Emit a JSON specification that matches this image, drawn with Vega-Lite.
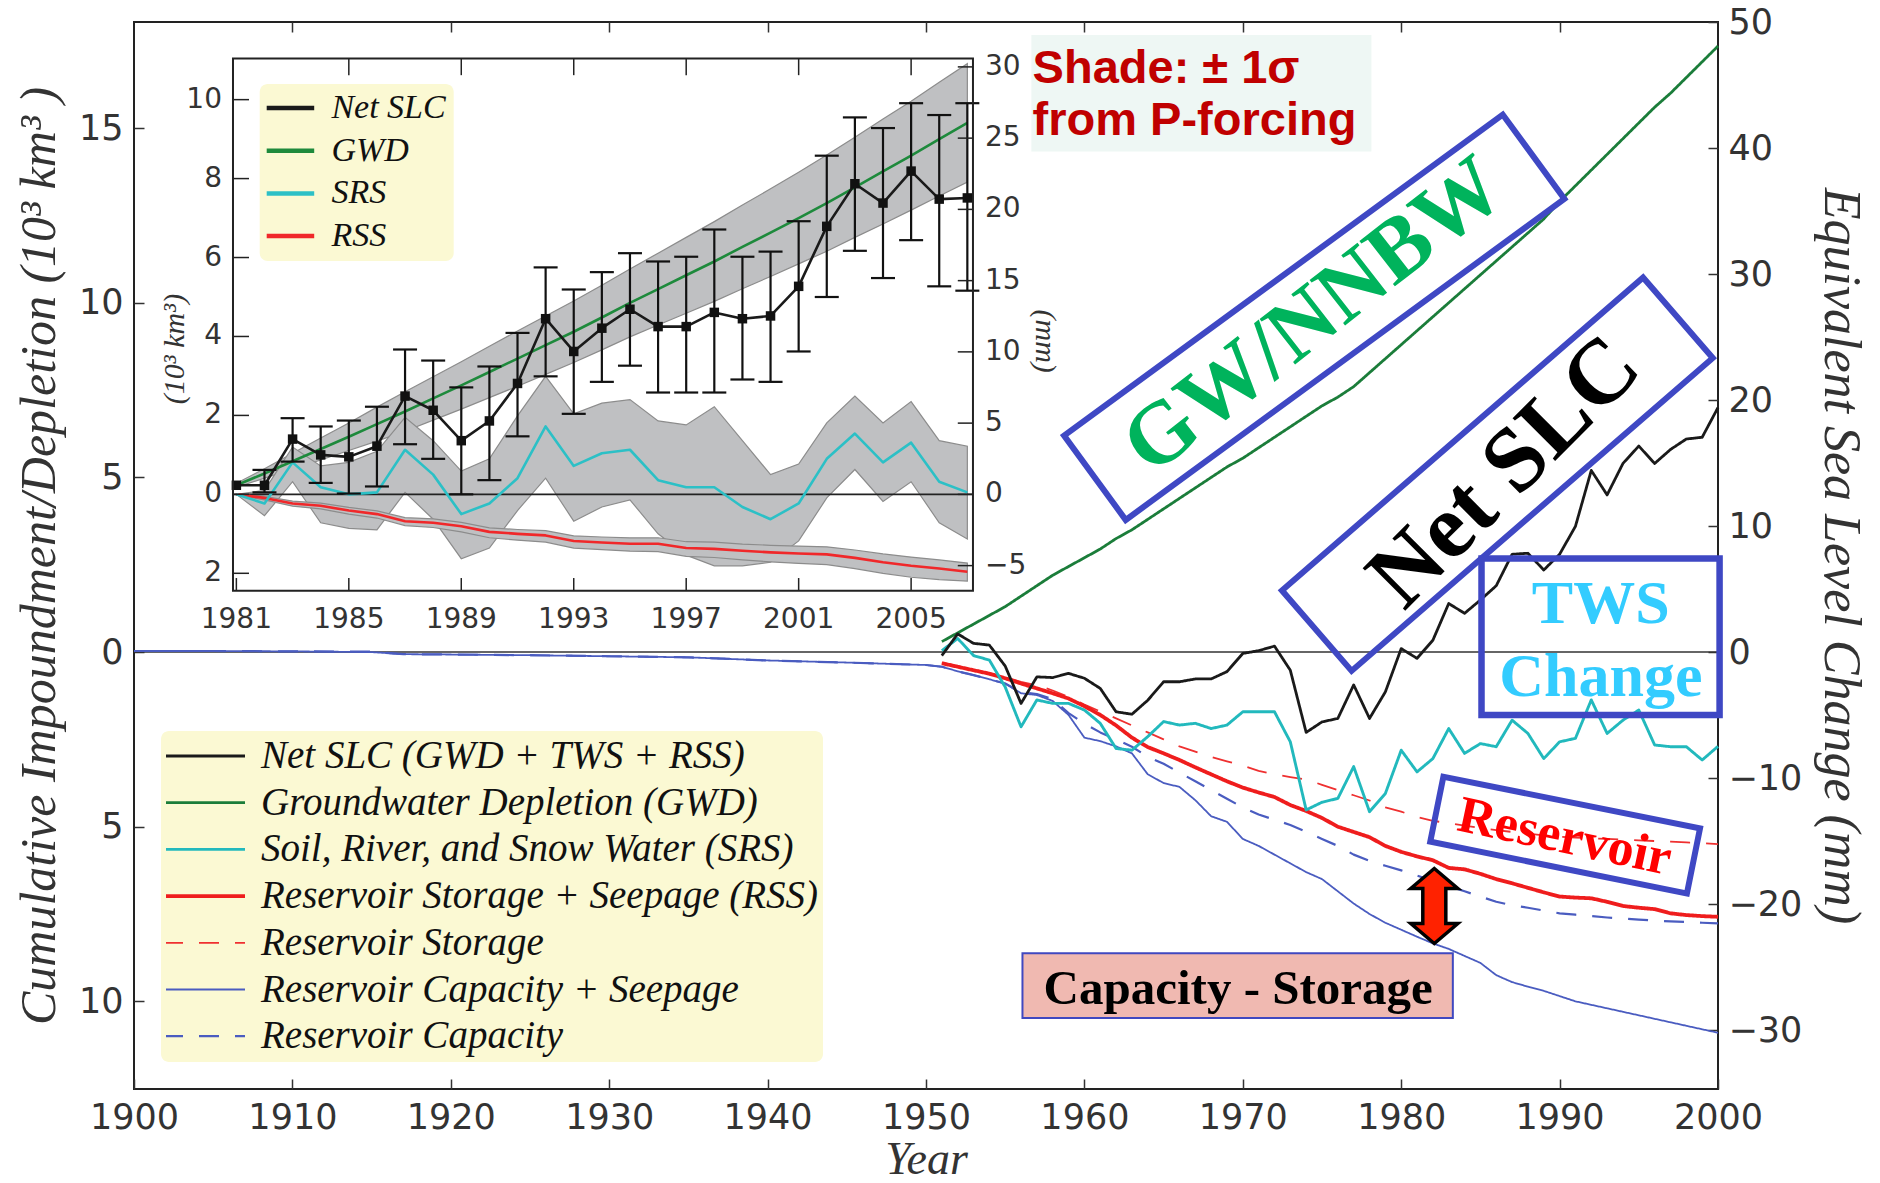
{
"$schema": "https://vega.github.io/schema/vega-lite/v6.json",
"width": 1584, "height": 1067,
"autosize": {"type": "none"},
"padding": {"left": 134, "top": 22, "right": 162, "bottom": 94},
"background": "white",
"config": {"view": {"stroke": "#222", "strokeWidth": 2}},
"datasets": {
"main": [
{"year":1900,"RCS":0.03,"RC":0.03},{"year":1905,"RCS":0.03,"RC":0.03},{"year":1910,"RCS":0.02,"RC":0.02},{"year":1915,"RCS":0.0,"RC":0.01},{"year":1917,"RCS":-0.06,"RC":-0.06},{"year":1920,"RCS":-0.07,"RC":-0.07},{"year":1925,"RCS":-0.09,"RC":-0.09},{"year":1930,"RCS":-0.12,"RC":-0.12},{"year":1935,"RCS":-0.15,"RC":-0.15},{"year":1940,"RCS":-0.24,"RC":-0.24},{"year":1945,"RCS":-0.3,"RC":-0.3},{"year":1950,"RCS":-0.37,"RC":-0.37},
{"year":1951,"NET":-0.1,"GWD":0.3,"SRS":0.04,"RSS":-0.32,"RS":-0.3,"RCS":-0.42,"RC":-0.42},
{"year":1952,"NET":0.52,"GWD":0.55,"SRS":0.39,"RSS":-0.42,"RS":-0.4,"RCS":-0.55,"RC":-0.55},
{"year":1953,"NET":0.25,"GWD":0.8,"SRS":-0.1,"RSS":-0.52,"RS":-0.5,"RCS":-0.66,"RC":-0.66},
{"year":1954,"NET":0.2,"GWD":1.05,"SRS":-0.23,"RSS":-0.62,"RS":-0.6,"RCS":-0.78,"RC":-0.78},
{"year":1955,"NET":-0.4,"GWD":1.3,"SRS":-1.0,"RSS":-0.75,"RS":-0.72,"RCS":-0.9,"RC":-0.9},
{"year":1956,"NET":-1.47,"GWD":1.6,"SRS":-2.14,"RSS":-0.9,"RS":-0.85,"RCS":-1.18,"RC":-1.15},
{"year":1957,"NET":-0.71,"GWD":1.9,"SRS":-1.37,"RSS":-1.04,"RS":-0.95,"RCS":-1.23,"RC":-1.2},
{"year":1958,"NET":-0.73,"GWD":2.2,"SRS":-1.47,"RSS":-1.18,"RS":-1.1,"RCS":-1.4,"RC":-1.35},
{"year":1959,"NET":-0.61,"GWD":2.45,"SRS":-1.47,"RSS":-1.33,"RS":-1.28,"RCS":-1.8,"RC":-1.75},
{"year":1960,"NET":-0.75,"GWD":2.7,"SRS":-1.66,"RSS":-1.55,"RS":-1.5,"RCS":-2.45,"RC":-2.05},
{"year":1961,"NET":-1.04,"GWD":2.95,"SRS":-2.04,"RSS":-1.8,"RS":-1.7,"RCS":-2.55,"RC":-2.3},
{"year":1962,"NET":-1.71,"GWD":3.25,"SRS":-2.76,"RSS":-2.1,"RS":-1.9,"RCS":-2.7,"RC":-2.5},
{"year":1963,"NET":-1.78,"GWD":3.5,"SRS":-2.81,"RSS":-2.45,"RS":-2.1,"RCS":-2.9,"RC":-2.71},
{"year":1964,"NET":-1.38,"GWD":3.8,"SRS":-2.42,"RSS":-2.72,"RS":-2.3,"RCS":-3.5,"RC":-3.0},
{"year":1965,"NET":-0.85,"GWD":4.1,"SRS":-1.99,"RSS":-2.9,"RS":-2.5,"RCS":-3.75,"RC":-3.2},
{"year":1966,"NET":-0.85,"GWD":4.4,"SRS":-2.09,"RSS":-3.09,"RS":-2.7,"RCS":-3.86,"RC":-3.45},
{"year":1967,"NET":-0.77,"GWD":4.7,"SRS":-2.04,"RSS":-3.3,"RS":-2.85,"RCS":-4.24,"RC":-3.7},
{"year":1968,"NET":-0.77,"GWD":5.0,"SRS":-2.19,"RSS":-3.5,"RS":-3.0,"RCS":-4.7,"RC":-3.95},
{"year":1969,"NET":-0.56,"GWD":5.3,"SRS":-2.09,"RSS":-3.7,"RS":-3.13,"RCS":-4.86,"RC":-4.2},
{"year":1970,"NET":-0.04,"GWD":5.55,"SRS":-1.71,"RSS":-3.88,"RS":-3.25,"RCS":-5.35,"RC":-4.45},
{"year":1971,"NET":0.04,"GWD":5.85,"SRS":-1.71,"RSS":-4.02,"RS":-3.4,"RCS":-5.55,"RC":-4.65},
{"year":1972,"NET":0.17,"GWD":6.15,"SRS":-1.71,"RSS":-4.15,"RS":-3.5,"RCS":-5.8,"RC":-4.8},
{"year":1973,"NET":-0.52,"GWD":6.45,"SRS":-2.57,"RSS":-4.38,"RS":-3.58,"RCS":-6.05,"RC":-4.95},
{"year":1974,"NET":-2.3,"GWD":6.75,"SRS":-4.52,"RSS":-4.55,"RS":-3.65,"RCS":-6.3,"RC":-5.15},
{"year":1975,"NET":-2.0,"GWD":7.05,"SRS":-4.3,"RSS":-4.75,"RS":-3.8,"RCS":-6.5,"RC":-5.35},
{"year":1976,"NET":-1.9,"GWD":7.3,"SRS":-4.19,"RSS":-5.0,"RS":-3.95,"RCS":-6.85,"RC":-5.55},
{"year":1977,"NET":-0.94,"GWD":7.6,"SRS":-3.28,"RSS":-5.15,"RS":-4.1,"RCS":-7.2,"RC":-5.8},
{"year":1978,"NET":-1.9,"GWD":8.0,"SRS":-4.57,"RSS":-5.3,"RS":-4.25,"RCS":-7.5,"RC":-5.98},
{"year":1979,"NET":-1.14,"GWD":8.4,"SRS":-4.05,"RSS":-5.55,"RS":-4.45,"RCS":-7.75,"RC":-6.12},
{"year":1980,"NET":0.1,"GWD":8.8,"SRS":-2.81,"RSS":-5.72,"RS":-4.57,"RCS":-7.95,"RC":-6.25},
{"year":1981,"NET":-0.18,"GWD":9.2,"SRS":-3.43,"RSS":-5.85,"RS":-4.72,"RCS":-8.15,"RC":-6.4},
{"year":1982,"NET":0.34,"GWD":9.6,"SRS":-3.05,"RSS":-5.96,"RS":-4.83,"RCS":-8.34,"RC":-6.55},
{"year":1983,"NET":1.39,"GWD":10.0,"SRS":-2.19,"RSS":-6.18,"RS":-4.9,"RCS":-8.5,"RC":-6.7},
{"year":1984,"NET":1.11,"GWD":10.4,"SRS":-2.9,"RSS":-6.22,"RS":-4.97,"RCS":-8.7,"RC":-6.85},
{"year":1985,"NET":1.49,"GWD":10.8,"SRS":-2.62,"RSS":-6.35,"RS":-5.04,"RCS":-8.9,"RC":-7.0},
{"year":1986,"NET":1.9,"GWD":11.2,"SRS":-2.71,"RSS":-6.5,"RS":-5.1,"RCS":-9.25,"RC":-7.15},
{"year":1987,"NET":2.8,"GWD":11.6,"SRS":-1.95,"RSS":-6.62,"RS":-5.15,"RCS":-9.45,"RC":-7.25},
{"year":1988,"NET":2.83,"GWD":12.0,"SRS":-2.33,"RSS":-6.75,"RS":-5.2,"RCS":-9.58,"RC":-7.32},
{"year":1989,"NET":2.35,"GWD":12.4,"SRS":-3.05,"RSS":-6.88,"RS":-5.25,"RCS":-9.7,"RC":-7.4},
{"year":1990,"NET":2.8,"GWD":12.9,"SRS":-2.57,"RSS":-7.0,"RS":-5.29,"RCS":-9.85,"RC":-7.48},
{"year":1991,"NET":3.6,"GWD":13.35,"SRS":-2.47,"RSS":-7.03,"RS":-5.31,"RCS":-10.0,"RC":-7.52},
{"year":1992,"NET":5.2,"GWD":13.8,"SRS":-1.37,"RSS":-7.05,"RS":-5.33,"RCS":-10.1,"RC":-7.56},
{"year":1993,"NET":4.5,"GWD":14.25,"SRS":-2.33,"RSS":-7.15,"RS":-5.35,"RCS":-10.2,"RC":-7.6},
{"year":1994,"NET":5.4,"GWD":14.7,"SRS":-1.95,"RSS":-7.27,"RS":-5.37,"RCS":-10.3,"RC":-7.63},
{"year":1995,"NET":5.9,"GWD":15.15,"SRS":-1.66,"RSS":-7.32,"RS":-5.39,"RCS":-10.4,"RC":-7.66},
{"year":1996,"NET":5.4,"GWD":15.6,"SRS":-2.66,"RSS":-7.36,"RS":-5.41,"RCS":-10.5,"RC":-7.69},
{"year":1997,"NET":5.8,"GWD":16.0,"SRS":-2.71,"RSS":-7.48,"RS":-5.43,"RCS":-10.6,"RC":-7.71},
{"year":1998,"NET":6.1,"GWD":16.45,"SRS":-2.71,"RSS":-7.53,"RS":-5.45,"RCS":-10.7,"RC":-7.73},
{"year":1999,"NET":6.15,"GWD":16.9,"SRS":-3.09,"RSS":-7.56,"RS":-5.47,"RCS":-10.8,"RC":-7.75},
{"year":2000,"NET":7.0,"GWD":17.35,"SRS":-2.7,"RSS":-7.58,"RS":-5.5,"RCS":-10.9,"RC":-7.77}
],
"inset": [
{"year":1981,"NET":0.23,"GWD":0.23,"glo":0.18,"ghi":0.28,"SRS":0,"slo":0,"shi":0,"RSS":0,"rlo":-0.02,"rhi":0.02},
{"year":1982,"NET":0.23,"lo":0.05,"hi":0.62,"GWD":0.53,"glo":0.41,"ghi":0.65,"SRS":-0.23,"slo":-0.54,"shi":0.1,"RSS":-0.09,"rlo":-0.14,"rhi":-0.05},
{"year":1983,"NET":1.4,"lo":0.83,"hi":1.93,"GWD":0.84,"glo":0.64,"ghi":1.04,"SRS":0.81,"slo":0.32,"shi":1.2,"RSS":-0.23,"rlo":-0.3,"rhi":-0.17},
{"year":1984,"NET":1.0,"lo":0.29,"hi":1.72,"GWD":1.15,"glo":0.87,"ghi":1.43,"SRS":0.18,"slo":-0.72,"shi":0.72,"RSS":-0.29,"rlo":-0.37,"rhi":-0.22},
{"year":1985,"NET":0.95,"lo":0.02,"hi":1.87,"GWD":1.46,"glo":1.11,"ghi":1.81,"SRS":0,"slo":-0.86,"shi":0.81,"RSS":-0.41,"rlo":-0.5,"rhi":-0.33},
{"year":1986,"NET":1.22,"lo":0.2,"hi":2.22,"GWD":1.78,"glo":1.35,"ghi":2.21,"SRS":0.05,"slo":-0.9,"shi":1.09,"RSS":-0.5,"rlo":-0.6,"rhi":-0.42},
{"year":1987,"NET":2.49,"lo":1.27,"hi":3.67,"GWD":2.1,"glo":1.6,"ghi":2.6,"SRS":1.13,"slo":0.05,"shi":1.95,"RSS":-0.68,"rlo":-0.79,"rhi":-0.59},
{"year":1988,"NET":2.13,"lo":0.9,"hi":3.39,"GWD":2.43,"glo":1.88,"ghi":2.98,"SRS":0.5,"slo":-0.63,"shi":1.36,"RSS":-0.72,"rlo":-0.84,"rhi":-0.62},
{"year":1989,"NET":1.36,"lo":0.0,"hi":2.71,"GWD":2.76,"glo":2.16,"ghi":3.36,"SRS":-0.5,"slo":-1.63,"shi":0.59,"RSS":-0.81,"rlo":-0.95,"rhi":-0.71},
{"year":1990,"NET":1.86,"lo":0.36,"hi":3.24,"GWD":3.1,"glo":2.45,"ghi":3.75,"SRS":-0.23,"slo":-1.36,"shi":0.9,"RSS":-0.95,"rlo":-1.1,"rhi":-0.85},
{"year":1991,"NET":2.81,"lo":1.47,"hi":4.09,"GWD":3.44,"glo":2.74,"ghi":4.14,"SRS":0.41,"slo":-0.41,"shi":1.99,"RSS":-1.0,"rlo":-1.16,"rhi":-0.89},
{"year":1992,"NET":4.45,"lo":2.99,"hi":5.75,"GWD":3.78,"glo":3.04,"ghi":4.52,"SRS":1.72,"slo":0.41,"shi":2.99,"RSS":-1.04,"rlo":-1.21,"rhi":-0.92},
{"year":1993,"NET":3.62,"lo":2.04,"hi":5.19,"GWD":4.12,"glo":3.34,"ghi":4.9,"SRS":0.72,"slo":-0.68,"shi":2.04,"RSS":-1.18,"rlo":-1.36,"rhi":-1.05},
{"year":1994,"NET":4.21,"lo":2.85,"hi":5.63,"GWD":4.48,"glo":3.66,"ghi":5.3,"SRS":1.04,"slo":-0.32,"shi":2.31,"RSS":-1.22,"rlo":-1.4,"rhi":-1.08},
{"year":1995,"NET":4.69,"lo":3.26,"hi":6.11,"GWD":4.85,"glo":3.99,"ghi":5.71,"SRS":1.13,"slo":-0.14,"shi":2.4,"RSS":-1.25,"rlo":-1.44,"rhi":-1.1},
{"year":1996,"NET":4.25,"lo":2.58,"hi":5.9,"GWD":5.2,"glo":4.29,"ghi":6.11,"SRS":0.36,"slo":-1.0,"shi":1.86,"RSS":-1.25,"rlo":-1.45,"rhi":-1.1},
{"year":1997,"NET":4.25,"lo":2.58,"hi":6.02,"GWD":5.55,"glo":4.59,"ghi":6.51,"SRS":0.18,"slo":-1.54,"shi":1.76,"RSS":-1.36,"rlo":-1.57,"rhi":-1.2},
{"year":1998,"NET":4.61,"lo":2.58,"hi":6.71,"GWD":5.9,"glo":4.89,"ghi":6.91,"SRS":0.18,"slo":-1.81,"shi":2.22,"RSS":-1.38,"rlo":-1.6,"rhi":-1.21},
{"year":1999,"NET":4.45,"lo":2.91,"hi":6.02,"GWD":6.27,"glo":5.21,"ghi":7.33,"SRS":-0.32,"slo":-1.81,"shi":1.36,"RSS":-1.43,"rlo":-1.66,"rhi":-1.26},
{"year":2000,"NET":4.52,"lo":2.85,"hi":6.15,"GWD":6.63,"glo":5.52,"ghi":7.74,"SRS":-0.63,"slo":-1.72,"shi":0.5,"RSS":-1.47,"rlo":-1.71,"rhi":-1.29},
{"year":2001,"NET":5.27,"lo":3.62,"hi":6.92,"GWD":7.0,"glo":5.84,"ghi":8.16,"SRS":-0.23,"slo":-1.18,"shi":0.77,"RSS":-1.5,"rlo":-1.75,"rhi":-1.31},
{"year":2002,"NET":6.79,"lo":5.0,"hi":8.58,"GWD":7.38,"glo":6.16,"ghi":8.6,"SRS":0.9,"slo":-0.09,"shi":1.81,"RSS":-1.52,"rlo":-1.78,"rhi":-1.33},
{"year":2003,"NET":7.87,"lo":6.17,"hi":9.55,"GWD":7.78,"glo":6.51,"ghi":9.05,"SRS":1.54,"slo":0.63,"shi":2.49,"RSS":-1.61,"rlo":-1.88,"rhi":-1.41},
{"year":2004,"NET":7.38,"lo":5.48,"hi":9.28,"GWD":8.18,"glo":6.85,"ghi":9.51,"SRS":0.81,"slo":-0.18,"shi":1.81,"RSS":-1.72,"rlo":-2.0,"rhi":-1.51},
{"year":2005,"NET":8.19,"lo":6.44,"hi":9.91,"GWD":8.58,"glo":7.2,"ghi":9.96,"SRS":1.31,"slo":0.32,"shi":2.35,"RSS":-1.81,"rlo":-2.1,"rhi":-1.59},
{"year":2006,"NET":7.48,"lo":5.27,"hi":9.61,"GWD":9.0,"glo":7.56,"ghi":10.44,"SRS":0.32,"slo":-0.72,"shi":1.36,"RSS":-1.88,"rlo":-2.16,"rhi":-1.66},
{"year":2007,"NET":7.51,"lo":5.16,"hi":9.91,"GWD":9.41,"glo":7.91,"ghi":10.91,"SRS":0.05,"slo":-1.13,"shi":1.22,"RSS":-1.96,"rlo":-2.2,"rhi":-1.74}
]
},
"layer": [
{
"layer": [
{"data": {"values": [{}]}, "mark": {"type": "rule", "color": "#333", "strokeWidth": 1.6}, "encoding": {"y": {"datum": 0, "type": "quantitative", "axis": null}}},
{"data": {"name": "main"},
 "transform": [{"fold": ["RCS","RC","RS","RSS","SRS","GWD","NET"], "as": ["series","value"]}, {"filter": "isValid(datum.value)"}],
 "mark": {"type": "line", "strokeJoin": "round"},
 "encoding": {
  "x": {"field": "year", "type": "quantitative", "scale": {"domain": [1900, 2000], "nice": false, "zero": false}, "axis": null},
  "y": {"field": "value", "type": "quantitative", "scale": {"domain": [-12.51, 18.04], "nice": false, "zero": false}, "axis": null},
  "color": {"field": "series", "type": "nominal",
            "scale": {"domain": ["NET","GWD","SRS","RSS","RS","RCS","RC"], "range": ["#1a1a1a","#1b7d3a","#22b9bd","#ef1d1d","#ef3030","#4a5cc0","#4a5cc0"]},
            "legend": {"title": null, "orient": "bottom-left", "offset": 27, "columns": 1, "symbolType": "stroke", "symbolSize": 6724, "clipHeight": 40, "rowPadding": 6.7, "padding": 5, "symbolOffset": -5, "labelOffset": 14, "fillColor": "#fbf9d3", "cornerRadius": 8, "labelFont": "Liberation Serif", "labelFontStyle": "italic", "labelFontSize": 39, "labelColor": "#111", "labelLimit": 900,
                       "labelExpr": "datum.label == 'NET' ? 'Net SLC (GWD + TWS + RSS)' : datum.label == 'GWD' ? 'Groundwater Depletion (GWD)' : datum.label == 'SRS' ? 'Soil, River, and Snow Water (SRS)' : datum.label == 'RSS' ? 'Reservoir Storage + Seepage (RSS)' : datum.label == 'RS' ? 'Reservoir Storage' : datum.label == 'RCS' ? 'Reservoir Capacity + Seepage' : 'Reservoir Capacity'"}},
  "strokeDash": {"field": "series", "type": "nominal", "scale": {"domain": ["NET","GWD","SRS","RSS","RS","RCS","RC"], "range": [[1,0],[1,0],[1,0],[1,0],[20,16],[1,0],[20,16]]}, "legend": {"title": null}},
  "strokeWidth": {"field": "series", "type": "ordinal", "scale": {"type": "ordinal", "domain": ["NET","GWD","SRS","RSS","RS","RCS","RC"], "range": [2.8,2.8,2.9,3.8,1.8,1.8,2.2]}, "legend": {"title": null}}
 }},
{"data": {"values": [{}]}, "mark": {"type": "rect", "fill": "#eef7f4"}, "encoding": {"x": {"datum": 1956.65, "type": "quantitative", "axis": null}, "x2": {"datum": 1978.12}, "y": {"datum": 17.67, "type": "quantitative", "axis": null}, "y2": {"datum": 14.33}}},
{"data": {"values": [{}]}, "mark": {"type": "text", "text": ["Shade: ± 1σ", "from P-forcing"], "lineHeight": 52, "align": "left", "baseline": "alphabetic", "font": "Liberation Sans", "fontWeight": "bold", "fontSize": 47, "color": "#c00000"}, "encoding": {"x": {"datum": 1956.73, "type": "quantitative", "axis": null}, "y": {"datum": 16.29, "type": "quantitative", "axis": null}}},
{"data": {"values": [{}]}, "mark": {"type": "point", "shape": "M-1,-0.192L1,-0.192L1,0.192L-1,0.192Z", "size": 295500, "angle": -36.2, "filled": false, "stroke": "#3f48c4", "strokeWidth": 6, "opacity": 1}, "encoding": {"x": {"datum": 1974.51, "type": "quantitative", "axis": null}, "y": {"datum": 9.585, "type": "quantitative", "axis": null}}},
{"data": {"values": [{}]}, "mark": {"type": "text", "text": "GW/NNBW", "angle": -38, "align": "center", "baseline": "middle", "font": "Liberation Serif", "fontWeight": "bold", "fontSize": 88, "color": "#00b35c"}, "encoding": {"x": {"datum": 1974.51, "type": "quantitative", "axis": null}, "y": {"datum": 9.607, "type": "quantitative", "axis": null}}},
{"data": {"values": [{}]}, "mark": {"type": "point", "shape": "M-1,-0.2227L1,-0.2227L1,0.2227L-1,0.2227Z", "size": 228290, "angle": -40.9, "filled": false, "stroke": "#3f48c4", "strokeWidth": 6, "opacity": 1}, "encoding": {"x": {"datum": 1986.07, "type": "quantitative", "axis": null}, "y": {"datum": 5.092, "type": "quantitative", "axis": null}}},
{"data": {"values": [{}]}, "mark": {"type": "text", "text": "Net SLC", "angle": -45, "align": "center", "baseline": "middle", "font": "Liberation Serif", "fontWeight": "bold", "fontSize": 92, "color": "#000000"}, "encoding": {"x": {"datum": 1986.52, "type": "quantitative", "axis": null}, "y": {"datum": 5.157, "type": "quantitative", "axis": null}}},
{"data": {"values": [{}]}, "mark": {"type": "rect", "fillOpacity": 0, "stroke": "#3f48c4", "strokeWidth": 6.5}, "encoding": {"x": {"datum": 1985.07, "type": "quantitative", "axis": null}, "x2": {"datum": 2000.1}, "y": {"datum": 2.68, "type": "quantitative", "axis": null}, "y2": {"datum": -1.8}}},
{"data": {"values": [{}]}, "mark": {"type": "text", "text": ["TWS", "Change"], "lineHeight": 73, "align": "center", "baseline": "alphabetic", "font": "Liberation Serif", "fontWeight": "bold", "fontSize": 62, "color": "#33ccff"}, "encoding": {"x": {"datum": 1992.6, "type": "quantitative", "axis": null}, "y": {"datum": 0.82, "type": "quantitative", "axis": null}}},
{"data": {"values": [{}]}, "mark": {"type": "point", "shape": "M-1,-0.2532L1,-0.2532L1,0.2532L-1,0.2532Z", "size": 68540, "angle": 11.4, "filled": false, "stroke": "#3f48c4", "strokeWidth": 6, "opacity": 1}, "encoding": {"x": {"datum": 1990.35, "type": "quantitative", "axis": null}, "y": {"datum": -5.24, "type": "quantitative", "axis": null}}},
{"data": {"values": [{}]}, "mark": {"type": "text", "text": "Reservoir", "angle": 12, "align": "center", "baseline": "middle", "font": "Liberation Serif", "fontWeight": "bold", "fontSize": 52, "color": "#ff0000"}, "encoding": {"x": {"datum": 1990.33, "type": "quantitative", "axis": null}, "y": {"datum": -5.29, "type": "quantitative", "axis": null}}},
{"data": {"values": [{}]}, "mark": {"type": "rect", "fill": "#f0b9b1", "stroke": "#4048c0", "strokeWidth": 2}, "encoding": {"x": {"datum": 1956.09, "type": "quantitative", "axis": null}, "x2": {"datum": 1983.26}, "y": {"datum": -8.625, "type": "quantitative", "axis": null}, "y2": {"datum": -10.48}}},
{"data": {"values": [{}]}, "mark": {"type": "text", "text": "Capacity - Storage", "align": "center", "baseline": "alphabetic", "font": "Liberation Serif", "fontWeight": "bold", "fontSize": 49, "color": "#000000"}, "encoding": {"x": {"datum": 1969.71, "type": "quantitative", "axis": null}, "y": {"datum": -10.08, "type": "quantitative", "axis": null}}},
{"data": {"values": [{}]}, "mark": {"type": "point", "shape": "M0,-1L0.627,-0.467L0.307,-0.467L0.307,0.467L0.627,0.467L0,1L-0.627,0.467L-0.307,0.467L-0.307,-0.467L-0.627,-0.467Z", "size": 5625, "filled": true, "fill": "#ff2200", "stroke": "#000000", "strokeWidth": 3.5, "opacity": 1}, "encoding": {"x": {"datum": 1982.09, "type": "quantitative", "axis": null}, "y": {"datum": -7.27, "type": "quantitative", "axis": null}}}
]
},
{"data": {"values": [{}]}, "mark": {"type": "rule", "strokeOpacity": 0},
 "encoding": {"x": {"datum": 1900, "type": "quantitative", "scale": {"domain": [1900, 2000], "nice": false, "zero": false},
   "axis": {"orient": "bottom", "values": [1900,1910,1920,1930,1940,1950,1960,1970,1980,1990,2000], "format": "d", "title": "Year", "titleFont": "Liberation Serif", "titleFontStyle": "italic", "titleFontWeight": "normal", "titleFontSize": 46, "titleColor": "#333", "titlePadding": 2, "labelFont": "DejaVu Sans", "labelFontSize": 35, "labelColor": "#333", "labelPadding": 21, "tickSize": -10, "tickColor": "#333", "tickWidth": 1.5, "domain": false, "grid": false, "labelFlush": false, "labelOverlap": false}}}},
{"data": {"values": [{}]}, "mark": {"type": "rule", "strokeOpacity": 0},
 "encoding": {"y": {"datum": 0, "type": "quantitative", "scale": {"domain": [-12.51, 18.04], "nice": false, "zero": false},
   "axis": {"orient": "left", "values": [-10,-5,0,5,10,15], "labelExpr": "'' + abs(datum.value)", "title": "Cumulative Impoundment/Depletion (10³ km³ )", "titleFont": "Liberation Serif", "titleFontStyle": "italic", "titleFontWeight": "normal", "titleFontSize": 50, "titleColor": "#333", "titlePadding": 14, "labelFont": "DejaVu Sans", "labelFontSize": 35, "labelColor": "#333", "labelPadding": 21, "tickSize": -10, "tickColor": "#333", "tickWidth": 1.5, "domain": false, "grid": false, "labelFlush": false}}}},
{"data": {"values": [{}]}, "mark": {"type": "rule", "strokeOpacity": 0},
 "encoding": {"y": {"datum": 0, "type": "quantitative", "scale": {"domain": [-34.67, 50], "nice": false, "zero": false},
   "axis": {"orient": "right", "values": [-30,-20,-10,0,10,20,30,40,50], "title": "Equivalent Sea Level Change (mm)", "titleFont": "Liberation Serif", "titleFontStyle": "italic", "titleFontWeight": "normal", "titleFontSize": 52, "titleColor": "#333", "titlePadding": 12, "labelFont": "DejaVu Sans", "labelFontSize": 35, "labelColor": "#333", "labelPadding": 20, "tickSize": -10, "tickColor": "#333", "tickWidth": 1.5, "domain": false, "grid": false, "labelFlush": false}}}},
{"data": {"values": [{}]}, "mark": {"type": "rule", "strokeOpacity": 0},
 "encoding": {"x": {"datum": 1900, "type": "quantitative", "scale": {"domain": [1900, 2000], "nice": false, "zero": false},
   "axis": {"orient": "top", "values": [1910,1920,1930,1940,1950,1960,1970,1980,1990], "labels": false, "title": null, "tickSize": -10, "tickColor": "#333", "tickWidth": 1.5, "domain": false, "grid": false}}}},
{
"layer": [
{"layer": [
 {"data": {"values": [{}]}, "mark": {"type": "rect", "fill": "white"}, "encoding": {"x": {"datum": 1980.88, "type": "quantitative", "scale": {"domain": [1977.359, 2033.7], "nice": false, "zero": false}, "axis": null}, "x2": {"datum": 2007.2}, "y": {"datum": -2.44, "type": "quantitative", "scale": {"domain": [-15.065, 11.967], "nice": false, "zero": false}, "axis": null}, "y2": {"datum": 11.04}}},
 {"data": {"name": "inset"}, "mark": {"type": "area", "fill": "#bfc0c2", "stroke": "#8c8c8c", "strokeWidth": 1.2, "fillOpacity": 1}, "encoding": {"x": {"field": "year", "type": "quantitative", "scale": {"domain": [1977.359, 2033.7], "nice": false, "zero": false}, "axis": null}, "y": {"field": "glo", "type": "quantitative", "scale": {"domain": [-15.065, 11.967], "nice": false, "zero": false}, "axis": null}, "y2": {"field": "ghi"}}},
 {"data": {"name": "inset"}, "mark": {"type": "area", "fill": "#bfc0c2", "stroke": "#8c8c8c", "strokeWidth": 1.2, "fillOpacity": 1}, "encoding": {"x": {"field": "year", "type": "quantitative", "axis": null}, "y": {"field": "slo", "type": "quantitative", "axis": null}, "y2": {"field": "shi"}}},
 {"data": {"name": "inset"}, "mark": {"type": "area", "fill": "#bfc0c2", "stroke": "#8c8c8c", "strokeWidth": 1.2, "fillOpacity": 1}, "encoding": {"x": {"field": "year", "type": "quantitative", "axis": null}, "y": {"field": "rlo", "type": "quantitative", "axis": null}, "y2": {"field": "rhi"}}},
 {"data": {"values": [{}]}, "mark": {"type": "rule", "color": "#222", "strokeWidth": 1.6}, "encoding": {"x": {"datum": 1980.88, "type": "quantitative", "axis": null}, "x2": {"datum": 2007.2}, "y": {"datum": 0, "type": "quantitative", "axis": null}}},
 {"data": {"name": "inset"}, "transform": [{"fold": ["RSS","SRS","GWD","NET"], "as": ["s","v"]}],
  "mark": {"type": "line", "strokeWidth": 2.6, "strokeJoin": "round"},
  "encoding": {"x": {"field": "year", "type": "quantitative", "axis": null}, "y": {"field": "v", "type": "quantitative", "axis": null},
   "color": {"field": "s", "type": "nominal", "scale": {"domain": ["NET","GWD","SRS","RSS"], "range": ["#1a1a1a","#1e8a3c","#2cc0c6","#f0282a"]},
     "legend": {"title": null, "orient": "none", "legendX": 125.7, "legendY": 62, "columns": 1, "symbolType": "stroke", "symbolSize": 2704, "symbolStrokeWidth": 4.5, "clipHeight": 34, "rowPadding": 8.7, "padding": 7, "symbolOffset": -7, "labelOffset": 14.7, "fillColor": "#fbf9d3", "cornerRadius": 8, "labelFont": "Liberation Serif", "labelFontStyle": "italic", "labelFontSize": 34, "labelColor": "#111", "labelLimit": 500, "labelExpr": "datum.label == 'NET' ? 'Net SLC' : datum.label",
                "encode": {"symbols": {"update": {"strokeWidth": {"value": 4.5}}}}}}}},
 {"data": {"name": "inset"}, "transform": [{"filter": "isValid(datum.lo)"}], "mark": {"type": "rule", "color": "#111", "strokeWidth": 2.2}, "encoding": {"x": {"field": "year", "type": "quantitative", "axis": null}, "y": {"field": "lo", "type": "quantitative", "axis": null}, "y2": {"field": "hi"}}},
 {"data": {"name": "inset"}, "transform": [{"filter": "isValid(datum.lo)"}], "mark": {"type": "tick", "orient": "horizontal", "size": 24, "thickness": 2.2, "color": "#111", "opacity": 1}, "encoding": {"x": {"field": "year", "type": "quantitative", "axis": null}, "y": {"field": "lo", "type": "quantitative", "axis": null}}},
 {"data": {"name": "inset"}, "transform": [{"filter": "isValid(datum.hi)"}], "mark": {"type": "tick", "orient": "horizontal", "size": 24, "thickness": 2.2, "color": "#111", "opacity": 1}, "encoding": {"x": {"field": "year", "type": "quantitative", "axis": null}, "y": {"field": "hi", "type": "quantitative", "axis": null}}},
 {"data": {"name": "inset"}, "mark": {"type": "point", "shape": "square", "size": 90, "filled": true, "color": "#111", "opacity": 1}, "encoding": {"x": {"field": "year", "type": "quantitative", "axis": null}, "y": {"field": "NET", "type": "quantitative", "axis": null}}},
 {"data": {"values": [{}]}, "mark": {"type": "rect", "fillOpacity": 0, "stroke": "#222", "strokeWidth": 2}, "encoding": {"x": {"datum": 1980.88, "type": "quantitative", "axis": null}, "x2": {"datum": 2007.2}, "y": {"datum": -2.44, "type": "quantitative", "axis": null}, "y2": {"datum": 11.04}}},
 {"data": {"values": [{"v":-2},{"v":0},{"v":2},{"v":4},{"v":6},{"v":8},{"v":10}]}, "mark": {"type": "rule", "color": "#222", "strokeWidth": 1.5}, "encoding": {"x": {"datum": 1980.88, "type": "quantitative", "axis": null}, "x2": {"datum": 1981.45}, "y": {"field": "v", "type": "quantitative", "axis": null}}},
 {"data": {"values": [{"v":1981},{"v":1985},{"v":1989},{"v":1993},{"v":1997},{"v":2001},{"v":2005}]}, "mark": {"type": "rule", "color": "#222", "strokeWidth": 1.5}, "encoding": {"x": {"field": "v", "type": "quantitative", "axis": null}, "y": {"datum": -2.44, "type": "quantitative", "axis": null}, "y2": {"datum": -2.12}}},
 {"data": {"values": [{"v":1985},{"v":1989},{"v":1993},{"v":1997},{"v":2001},{"v":2005}]}, "mark": {"type": "rule", "color": "#222", "strokeWidth": 1.5}, "encoding": {"x": {"field": "v", "type": "quantitative", "axis": null}, "y": {"datum": 11.04, "type": "quantitative", "axis": null}, "y2": {"datum": 10.62}}},
 {"data": {"values": [{"v":-2,"lab":"2"},{"v":0,"lab":"0"},{"v":2,"lab":"2"},{"v":4,"lab":"4"},{"v":6,"lab":"6"},{"v":8,"lab":"8"},{"v":10,"lab":"10"}]}, "mark": {"type": "text", "align": "right", "baseline": "middle", "dx": -11, "font": "DejaVu Sans", "fontSize": 28, "color": "#333"}, "encoding": {"x": {"datum": 1980.88, "type": "quantitative", "axis": null}, "y": {"field": "v", "type": "quantitative", "axis": null}, "text": {"field": "lab"}}},
 {"data": {"values": [{"v":1981},{"v":1985},{"v":1989},{"v":1993},{"v":1997},{"v":2001},{"v":2005}]}, "mark": {"type": "text", "align": "center", "baseline": "top", "dy": 15, "font": "DejaVu Sans", "fontSize": 28, "color": "#333"}, "encoding": {"x": {"field": "v", "type": "quantitative", "axis": null}, "y": {"datum": -2.44, "type": "quantitative", "axis": null}, "text": {"field": "v", "type": "quantitative", "format": "d"}}},
 {"data": {"values": [{}]}, "mark": {"type": "text", "text": "(10³  km³)", "angle": 270, "align": "center", "baseline": "middle", "font": "Liberation Serif", "fontStyle": "italic", "fontSize": 30, "color": "#333"}, "encoding": {"x": {"datum": 1978.81, "type": "quantitative", "axis": null}, "y": {"datum": 3.68, "type": "quantitative", "axis": null}}},
 {"data": {"values": [{}]}, "mark": {"type": "text", "text": "(mm)", "angle": 90, "align": "center", "baseline": "middle", "font": "Liberation Serif", "fontStyle": "italic", "fontSize": 30, "color": "#333"}, "encoding": {"x": {"datum": 2009.77, "type": "quantitative", "axis": null}, "y": {"datum": 3.88, "type": "quantitative", "axis": null}}}
]},
{"layer": [
 {"data": {"values": [{"v":-5},{"v":0},{"v":5},{"v":10},{"v":15},{"v":20},{"v":25},{"v":30}]}, "mark": {"type": "rule", "color": "#222", "strokeWidth": 1.5}, "encoding": {"x": {"datum": 2006.66, "type": "quantitative", "axis": null}, "x2": {"datum": 2007.2}, "y": {"field": "v", "type": "quantitative", "scale": {"domain": [-41.73, 33.15], "nice": false, "zero": false}, "axis": null}}},
 {"data": {"values": [{"v":-5,"lab":"−5"},{"v":0,"lab":"0"},{"v":5,"lab":"5"},{"v":10,"lab":"10"},{"v":15,"lab":"15"},{"v":20,"lab":"20"},{"v":25,"lab":"25"},{"v":30,"lab":"30"}]}, "mark": {"type": "text", "align": "left", "baseline": "middle", "dx": 12, "font": "DejaVu Sans", "fontSize": 28, "color": "#333"}, "encoding": {"x": {"datum": 2007.2, "type": "quantitative", "axis": null}, "y": {"field": "v", "type": "quantitative", "axis": null}, "text": {"field": "lab"}}}
]}
],
"resolve": {"scale": {"y": "independent"}}
}
],
"resolve": {"scale": {"x": "independent", "y": "independent", "color": "independent", "strokeDash": "independent", "strokeWidth": "independent"}}
}
